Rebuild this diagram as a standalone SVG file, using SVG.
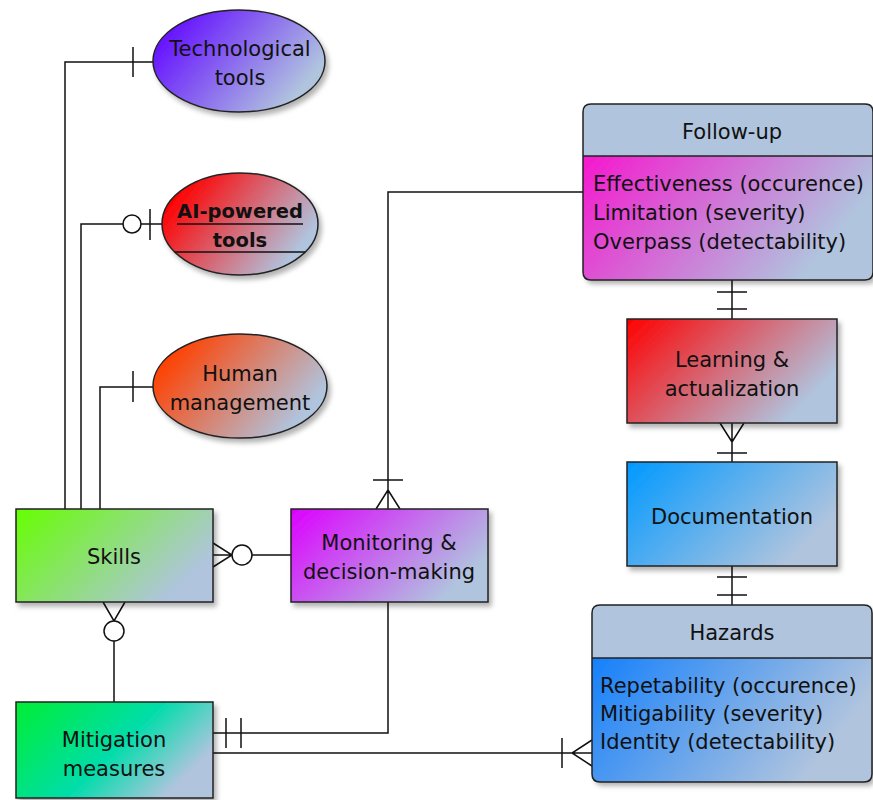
<svg xmlns="http://www.w3.org/2000/svg" width="873" height="800" viewBox="0 0 873 800">
<defs>
  <linearGradient id="gTech" x1="0" y1="0" x2="1" y2="0.5"><stop offset="0.15" stop-color="#6612ff"/><stop offset="1" stop-color="#b0c4de"/></linearGradient>
  <linearGradient id="gAI" x1="0" y1="0" x2="1" y2="0.5"><stop offset="0.15" stop-color="#ff0000"/><stop offset="1" stop-color="#b0c4de"/></linearGradient>
  <linearGradient id="gHum" x1="0" y1="0" x2="1" y2="0.5"><stop offset="0.15" stop-color="#ff4000"/><stop offset="1" stop-color="#b0c4de"/></linearGradient>
  <linearGradient id="gSkills" x1="0" y1="0" x2="1" y2="0.5"><stop offset="0" stop-color="#66ff00"/><stop offset="1" stop-color="#b0c4de"/></linearGradient>
  <linearGradient id="gMon" x1="0" y1="0" x2="1" y2="0.5"><stop offset="0" stop-color="#dd00ff"/><stop offset="1" stop-color="#b0c4de"/></linearGradient>
  <linearGradient id="gMit" x1="0" y1="0" x2="1" y2="0.5"><stop offset="0" stop-color="#00ee33"/><stop offset="0.6" stop-color="#00ddaa"/><stop offset="1" stop-color="#b0c4de"/></linearGradient>
  <linearGradient id="gFol" x1="0" y1="0" x2="1" y2="0.5"><stop offset="0" stop-color="#ff00cc"/><stop offset="1" stop-color="#b0c4de"/></linearGradient>
  <linearGradient id="gLearn" x1="0" y1="0" x2="1" y2="0.5"><stop offset="0" stop-color="#ff0000"/><stop offset="1" stop-color="#b0c4de"/></linearGradient>
  <linearGradient id="gDoc" x1="0" y1="0" x2="1" y2="0.5"><stop offset="0" stop-color="#0099ff"/><stop offset="1" stop-color="#b0c4de"/></linearGradient>
  <linearGradient id="gHaz" x1="0" y1="0" x2="1" y2="0.5"><stop offset="0" stop-color="#0077ff"/><stop offset="1" stop-color="#b0c4de"/></linearGradient>
  <filter id="sh" x="-10%" y="-10%" width="130%" height="130%">
    <feDropShadow dx="3" dy="4" stdDeviation="2.5" flood-color="#000" flood-opacity="0.3"/>
  </filter>
</defs>
<style>
  .node { stroke: #222; stroke-width: 1.5; filter: url(#sh); }
  .plain { stroke: #222; stroke-width: 1.5; }
  .t { font-family: "DejaVu Sans", Verdana, sans-serif; font-size: 21px; fill: #111; text-anchor: middle; }
  .tl { font-family: "DejaVu Sans", Verdana, sans-serif; font-size: 21px; fill: #111; text-anchor: start; }
  .b { font-weight: bold; font-size: 19.5px; }
  .c { fill: none; stroke: #111; stroke-width: 1.5; }
  .circ { fill: #fff; stroke: #111; stroke-width: 1.5; }
</style>
<rect width="873" height="800" fill="#fff"/>

<g id="connectors">
  <path class="c" d="M65 509 V62 H153 M133 47 V77"/>
  <path class="c" d="M81 509 V224 H162 M150 209 V240"/>
  <circle class="circ" cx="132" cy="224" r="9"/>
  <path class="c" d="M100 509 V387 H153 M133 371 V402"/>
  <path class="c" d="M213 555 H291 M213 543 L232 555 L213 567"/>
  <circle class="circ" cx="242" cy="555" r="10"/>
  <path class="c" d="M388 509 V192 H583 M376 509 L388 490 L400 509 M373 480 H403"/>
  <path class="c" d="M388 602 V733 H213 M226 718 V748 M241 718 V748"/>
  <path class="c" d="M114 702 V641 M103 602 L114 621 L125 602"/>
  <circle class="circ" cx="114" cy="631" r="10"/>
  <path class="c" d="M213 753 H592 M562 738 V768 M592 740 L572 753 L592 766"/>
  <path class="c" d="M732 280 V319 M717 292 H747 M717 309 H747"/>
  <path class="c" d="M732 423 V462 M720 423 L732 442 L744 423 M717 453 H747"/>
  <path class="c" d="M732 566 V605 M717 577 H747 M717 595 H747"/>
</g>

<g id="technological-tools">
  <ellipse class="node" cx="239" cy="61" rx="86" ry="51" fill="url(#gTech)"/>
  <text class="t" x="240" y="56">Technological</text>
  <text class="t" x="240" y="85">tools</text>
</g>

<g id="ai-powered-tools">
  <ellipse class="node" cx="240" cy="224" rx="78" ry="51" fill="url(#gAI)"/>
  <text class="t b" x="240" y="218">AI-powered</text>
  <text class="t b" x="240" y="247">tools</text>
  <path class="c" d="M177 224 H303 M175 252 H305"/>
</g>

<g id="human-management">
  <ellipse class="node" cx="240" cy="386" rx="87" ry="52" fill="url(#gHum)"/>
  <text class="t" x="240" y="381">Human</text>
  <text class="t" x="240" y="410">management</text>
</g>

<g id="skills">
  <rect class="node" x="16" y="509" width="197" height="93" fill="url(#gSkills)"/>
  <text class="t" x="114" y="564">Skills</text>
</g>

<g id="monitoring">
  <rect class="node" x="291" y="509" width="197" height="93" fill="url(#gMon)"/>
  <text class="t" x="389" y="550">Monitoring &amp;</text>
  <text class="t" x="389" y="579">decision-making</text>
</g>

<g id="mitigation-measures">
  <rect class="node" x="16" y="702" width="197" height="96" fill="url(#gMit)"/>
  <text class="t" x="114" y="747">Mitigation</text>
  <text class="t" x="114" y="776">measures</text>
</g>

<g id="follow-up">
  <g filter="url(#sh)">
    <path d="M591 104 H865 Q873 104 873 112 V272 Q873 280 865 280 H591 Q583 280 583 272 V112 Q583 104 591 104 Z" fill="url(#gFol)"/>
    <path d="M591 104 H865 Q873 104 873 112 V156 H583 V112 Q583 104 591 104 Z" fill="#b0c4de"/>
  </g>
  <path class="plain" fill="none" d="M591 104 H865 Q873 104 873 112 V272 Q873 280 865 280 H591 Q583 280 583 272 V112 Q583 104 591 104 Z M583 156 H873"/>
  <text class="t" x="732" y="139">Follow-up</text>
  <text class="tl" x="593" y="191">Effectiveness (occurence)</text>
  <text class="tl" x="593" y="220">Limitation (severity)</text>
  <text class="tl" x="593" y="249">Overpass (detectability)</text>
</g>

<g id="learning-actualization">
  <rect class="node" x="627" y="319" width="210" height="104" fill="url(#gLearn)"/>
  <text class="t" x="732" y="367">Learning &amp;</text>
  <text class="t" x="732" y="396">actualization</text>
</g>

<g id="documentation">
  <rect class="node" x="627" y="462" width="210" height="104" fill="url(#gDoc)"/>
  <text class="t" x="732" y="524">Documentation</text>
</g>

<g id="hazards">
  <g filter="url(#sh)">
    <path d="M600 605 H864 Q872 605 872 613 V774 Q872 782 864 782 H600 Q592 782 592 774 V613 Q592 605 600 605 Z" fill="url(#gHaz)"/>
    <path d="M600 605 H864 Q872 605 872 613 V658 H592 V613 Q592 605 600 605 Z" fill="#b0c4de"/>
  </g>
  <path class="plain" fill="none" d="M600 605 H864 Q872 605 872 613 V774 Q872 782 864 782 H600 Q592 782 592 774 V613 Q592 605 600 605 Z M592 658 H872"/>
  <text class="t" x="732" y="640">Hazards</text>
  <text class="tl" x="600" y="693">Repetability (occurence)</text>
  <text class="tl" x="600" y="721">Mitigability (severity)</text>
  <text class="tl" x="600" y="749">Identity (detectability)</text>
</g>
</svg>
